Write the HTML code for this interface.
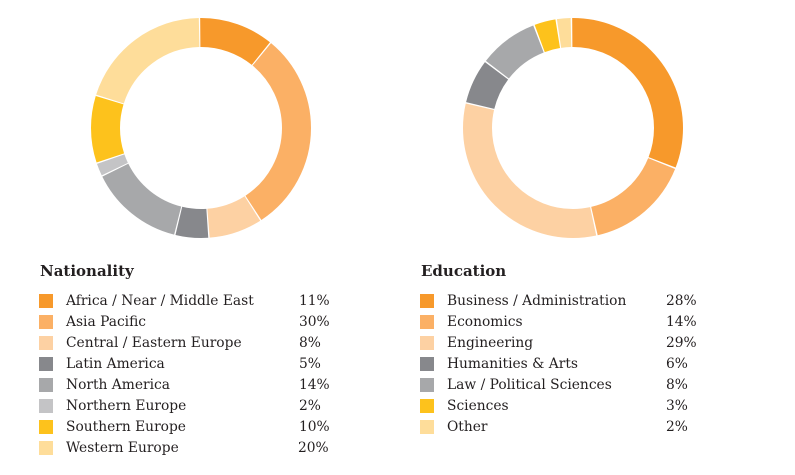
<!DOCTYPE html>
<html><head><meta charset="utf-8"><style>
body{margin:0;background:#fff;width:795px;height:475px;overflow:hidden;position:relative;font-family:"DejaVu Serif","Liberation Serif",serif;color:#231f20}
.t{position:absolute;font-weight:bold;font-size:15px}
.r{position:absolute;font-size:13.8px;line-height:16px;white-space:nowrap}
.s{position:absolute;width:14px;height:14px}
</style></head><body>
<svg width="795" height="260" style="position:absolute;left:0;top:0">
<g transform="translate(201,128) rotate(-90)" fill="none" stroke-width="29">
<circle r="95.5" pathLength="100" stroke="#F7992B" stroke-dasharray="10.8 89.2" stroke-dashoffset="0"/>
<circle r="95.5" pathLength="100" stroke="#FBB065" stroke-dasharray="29.8 70.2" stroke-dashoffset="-11"/>
<circle r="95.5" pathLength="100" stroke="#FDD1A3" stroke-dasharray="7.8 92.2" stroke-dashoffset="-41"/>
<circle r="95.5" pathLength="100" stroke="#87888C" stroke-dasharray="4.8 95.2" stroke-dashoffset="-49"/>
<circle r="95.5" pathLength="100" stroke="#A7A8AA" stroke-dasharray="13.8 86.2" stroke-dashoffset="-54"/>
<circle r="95.5" pathLength="100" stroke="#C4C4C6" stroke-dasharray="1.8 98.2" stroke-dashoffset="-68"/>
<circle r="95.5" pathLength="100" stroke="#FDC21C" stroke-dasharray="9.8 90.2" stroke-dashoffset="-70"/>
<circle r="95.5" pathLength="100" stroke="#FEDD9A" stroke-dasharray="19.8 80.2" stroke-dashoffset="-80"/>
</g>
<g transform="translate(573,128) rotate(-90)" fill="none" stroke-width="29">
<circle r="95.5" pathLength="90" stroke="#F7992B" stroke-dasharray="27.8 62.2" stroke-dashoffset="0"/>
<circle r="95.5" pathLength="90" stroke="#FBB065" stroke-dasharray="13.8 76.2" stroke-dashoffset="-28"/>
<circle r="95.5" pathLength="90" stroke="#FDD1A3" stroke-dasharray="28.8 61.2" stroke-dashoffset="-42"/>
<circle r="95.5" pathLength="90" stroke="#87888C" stroke-dasharray="5.8 84.2" stroke-dashoffset="-71"/>
<circle r="95.5" pathLength="90" stroke="#A7A8AA" stroke-dasharray="7.8 82.2" stroke-dashoffset="-77"/>
<circle r="95.5" pathLength="90" stroke="#FDC21C" stroke-dasharray="2.8 87.2" stroke-dashoffset="-85"/>
<circle r="95.5" pathLength="90" stroke="#FEDD9A" stroke-dasharray="1.8 88.2" stroke-dashoffset="-88"/>
</g>
</svg>
<div class="t" style="left:40px;top:262px">Nationality</div>
<div class="t" style="left:421px;top:262px">Education</div>

<div class="s" style="left:39px;top:294px;background:#F7992B"></div><div class="r" style="left:66px;top:293px">Africa / Near / Middle East</div><div class="r" style="left:299px;top:293px">11%</div>
<div class="s" style="left:39px;top:315px;background:#FBB065"></div><div class="r" style="left:66px;top:314px">Asia Pacific</div><div class="r" style="left:299px;top:314px">30%</div>
<div class="s" style="left:39px;top:336px;background:#FDD1A3"></div><div class="r" style="left:66px;top:335px">Central / Eastern Europe</div><div class="r" style="left:299px;top:335px">8%</div>
<div class="s" style="left:39px;top:357px;background:#87888C"></div><div class="r" style="left:66px;top:356px">Latin America</div><div class="r" style="left:299px;top:356px">5%</div>
<div class="s" style="left:39px;top:378px;background:#A7A8AA"></div><div class="r" style="left:66px;top:377px">North America</div><div class="r" style="left:299px;top:377px">14%</div>
<div class="s" style="left:39px;top:399px;background:#C4C4C6"></div><div class="r" style="left:66px;top:398px">Northern Europe</div><div class="r" style="left:299px;top:398px">2%</div>
<div class="s" style="left:39px;top:420px;background:#FDC21C"></div><div class="r" style="left:66px;top:419px">Southern Europe</div><div class="r" style="left:299px;top:419px">10%</div>
<div class="s" style="left:39px;top:441px;background:#FEDD9A"></div><div class="r" style="left:66px;top:440px">Western Europe</div><div class="r" style="left:298px;top:440px">20%</div>

<div class="s" style="left:420px;top:294px;background:#F7992B"></div><div class="r" style="left:447px;top:293px">Business / Administration</div><div class="r" style="left:666px;top:293px">28%</div>
<div class="s" style="left:420px;top:315px;background:#FBB065"></div><div class="r" style="left:447px;top:314px">Economics</div><div class="r" style="left:666px;top:314px">14%</div>
<div class="s" style="left:420px;top:336px;background:#FDD1A3"></div><div class="r" style="left:447px;top:335px">Engineering</div><div class="r" style="left:666px;top:335px">29%</div>
<div class="s" style="left:420px;top:357px;background:#87888C"></div><div class="r" style="left:447px;top:356px">Humanities &amp; Arts</div><div class="r" style="left:666px;top:356px">6%</div>
<div class="s" style="left:420px;top:378px;background:#A7A8AA"></div><div class="r" style="left:447px;top:377px">Law / Political Sciences</div><div class="r" style="left:666px;top:377px">8%</div>
<div class="s" style="left:420px;top:399px;background:#FDC21C"></div><div class="r" style="left:447px;top:398px">Sciences</div><div class="r" style="left:666px;top:398px">3%</div>
<div class="s" style="left:420px;top:420px;background:#FEDD9A"></div><div class="r" style="left:447px;top:419px">Other</div><div class="r" style="left:666px;top:419px">2%</div>
</body></html>
